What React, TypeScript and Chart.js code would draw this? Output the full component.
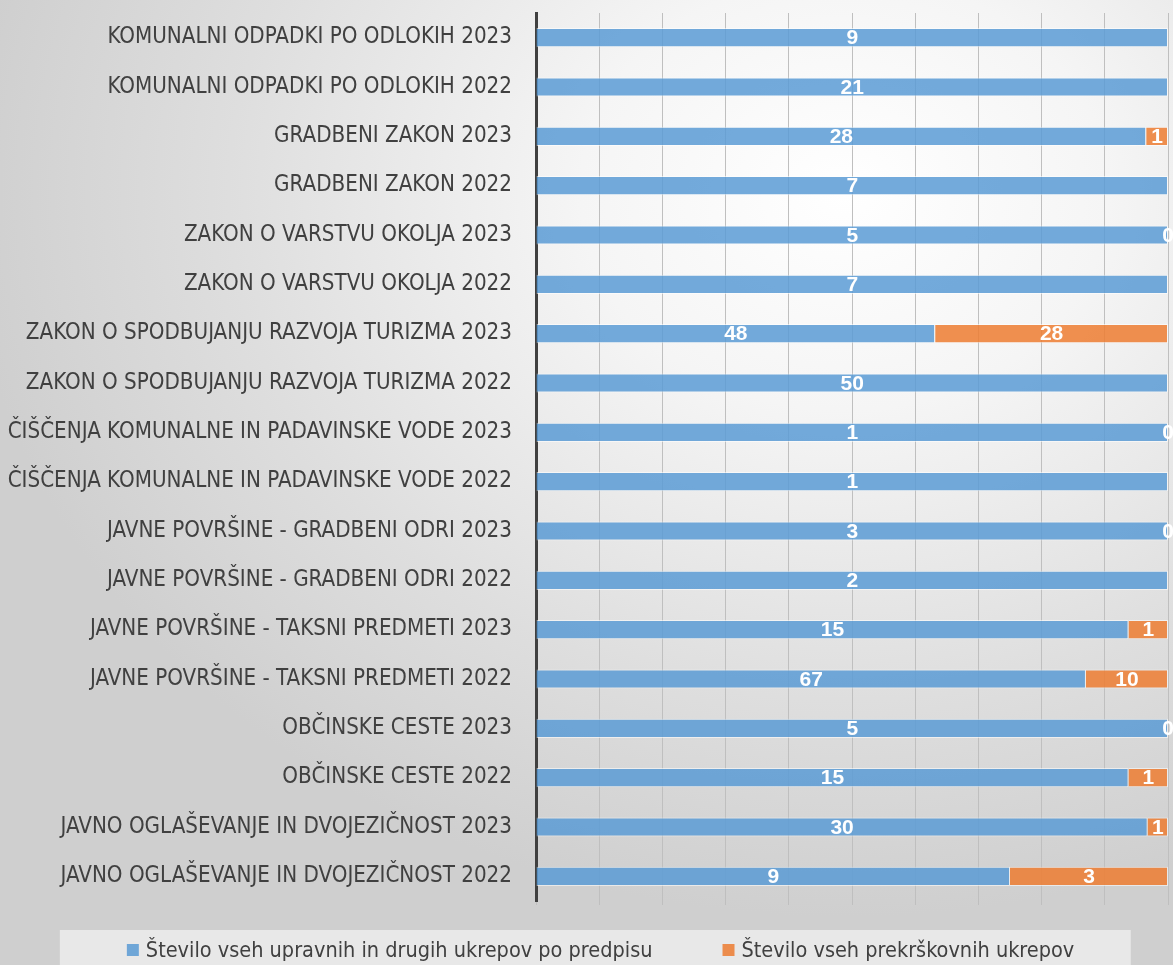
import React, { useEffect, useRef } from "react";
import { Chart, registerables } from "chart.js";

Chart.register(...registerables);

const categories: string[] = [
  "KOMUNALNI ODPADKI PO ODLOKIH 2023",
  "KOMUNALNI ODPADKI PO ODLOKIH 2022",
  "GRADBENI ZAKON 2023",
  "GRADBENI ZAKON 2022",
  "ZAKON O VARSTVU OKOLJA 2023",
  "ZAKON O VARSTVU OKOLJA 2022",
  "ZAKON O SPODBUJANJU RAZVOJA TURIZMA 2023",
  "ZAKON O SPODBUJANJU RAZVOJA TURIZMA 2022",
  "ČIŠČENJA KOMUNALNE IN PADAVINSKE VODE 2023",
  "ČIŠČENJA KOMUNALNE IN PADAVINSKE VODE 2022",
  "JAVNE POVRŠINE - GRADBENI ODRI 2023",
  "JAVNE POVRŠINE - GRADBENI ODRI 2022",
  "JAVNE POVRŠINE - TAKSNI PREDMETI 2023",
  "JAVNE POVRŠINE - TAKSNI PREDMETI 2022",
  "OBČINSKE CESTE 2023",
  "OBČINSKE CESTE 2022",
  "JAVNO OGLAŠEVANJE IN DVOJEZIČNOST 2023",
  "JAVNO OGLAŠEVANJE IN DVOJEZIČNOST 2022",
];

const upravniUkrepi: (number | null)[] = [9, 21, 28, 7, 5, 7, 48, 50, 1, 1, 3, 2, 15, 67, 5, 15, 30, 9];
const prekrskovniUkrepi: (number | null)[] = [null, null, 1, null, 0, null, 28, null, 0, null, 0, null, 1, 10, 0, 1, 1, 3];

const seriesNames: string[] = [
  "Število vseh upravnih in drugih ukrepov po predpisu",
  "Število vseh prekrškovnih ukrepov",
];

const seriesColors: string[] = ["rgba(91,155,213,0.85)", "rgba(237,125,49,0.85)"];

const FONT = "'Liberation Sans Narrow', 'DejaVu Sans Condensed', sans-serif";
const LABEL_FONT = "'Liberation Sans', 'DejaVu Sans', sans-serif";

function toPercent(a: (number | null)[], b: (number | null)[], own: (number | null)[]) {
  return own.map((v, i) => {
    if (v === null) return null;
    const total = (a[i] ?? 0) + (b[i] ?? 0);
    return total === 0 ? 0 : (v / total) * 100;
  });
}

export default function App() {
  const ref = useRef<HTMLCanvasElement | null>(null);

  useEffect(() => {
    if (!ref.current) return;
    const rawSeries = [upravniUkrepi, prekrskovniUkrepi];

    const labelPlugin = {
      id: "valueLabels",
      afterDatasetsDraw(chart: any) {
        const ctx = chart.ctx;
        ctx.save();
        ctx.fillStyle = "#ffffff";
        ctx.font = `bold 21px ${LABEL_FONT}`;
        ctx.textAlign = "center";
        ctx.textBaseline = "middle";
        rawSeries.forEach((arr, di) => {
          const meta = chart.getDatasetMeta(di);
          meta.data.forEach((el: any, j: number) => {
            const v = arr[j];
            if (v === null || v === undefined) return;
            const cx = (el.x + el.base) / 2;
            ctx.fillText(String(v), cx, el.y + 1);
          });
        });
        ctx.restore();
      },
    };

    const legendPlugin = {
      id: "customLegend",
      beforeDraw(chart: any) {
        const ctx = chart.ctx;
        const area = chart.chartArea;
        ctx.save();
        ctx.fillStyle = "rgba(238,238,238,0.8)";
        const x0 = chart.width * 0.051;
        const x1 = chart.width * 0.964;
        ctx.fillRect(x0, area.bottom + 29, x1 - x0, chart.height - area.bottom - 29);
        ctx.restore();
      },
      afterDraw(chart: any) {
        const ctx = chart.ctx;
        const area = chart.chartArea;
        ctx.save();
        ctx.font = `21.5px ${FONT}`;
        ctx.textBaseline = "middle";
        ctx.textAlign = "left";
        const box = 12;
        const gapBox = 7;
        const gapItems = 70;
        const widths = seriesNames.map((s) => ctx.measureText(s).width);
        const total = widths.reduce((s, w) => s + box + gapBox + w, 0) + gapItems * (seriesNames.length - 1);
        let x = chart.width * 0.512 - total / 2;
        const y = area.bottom + 49;
        seriesNames.forEach((name, i) => {
          ctx.fillStyle = seriesColors[i];
          ctx.fillRect(x, y - box / 2, box, box);
          ctx.fillStyle = "#404040";
          ctx.fillText(name, x + box + gapBox, y + 1);
          x += box + gapBox + widths[i] + gapItems;
        });
        ctx.restore();
      },
    };

    const chart = new Chart(ref.current, {
      type: "bar",
      data: {
        labels: categories,
        datasets: [
          {
            label: seriesNames[0],
            data: toPercent(upravniUkrepi, prekrskovniUkrepi, upravniUkrepi),
            backgroundColor: seriesColors[0],
            borderColor: "rgba(255,255,255,0.55)",
            borderWidth: 1,
            barPercentage: 0.78,
            categoryPercentage: 0.5,
          },
          {
            label: seriesNames[1],
            data: toPercent(upravniUkrepi, prekrskovniUkrepi, prekrskovniUkrepi),
            backgroundColor: seriesColors[1],
            borderColor: "rgba(255,255,255,0.55)",
            borderWidth: 1,
            barPercentage: 0.78,
            categoryPercentage: 0.5,
          },
        ],
      },
      options: {
        indexAxis: "y",
        animation: false,
        responsive: false,
        maintainAspectRatio: false,
        layout: { padding: { top: 13, right: 5, left: 0, bottom: 60 } },
        scales: {
          x: {
            stacked: true,
            min: 0,
            max: 100,
            ticks: { display: false, stepSize: 10 },
            grid: { color: "#bfbfbf", lineWidth: 1, drawTicks: true, tickLength: 4 },
            border: { display: false },
            afterFit(scale: any) {
              scale.height = 4;
              scale.paddingLeft = 0;
              scale.paddingRight = 0;
            },
          },
          y: {
            stacked: true,
            grid: { display: false, drawTicks: false },
            border: { display: true, color: "#404040", width: 3 },
            ticks: {
              color: "#404040",
              padding: 24,
              autoSkip: false,
              font: { family: FONT, size: 22.2 },
            },
            afterFit(scale: any) {
              scale.width = 536;
              scale.paddingTop = 0;
              scale.paddingBottom = 0;
            },
          },
        },
        plugins: {
          legend: { display: false },
          tooltip: { enabled: false },
        },
      },
      plugins: [labelPlugin, legendPlugin],
    } as any);

    return () => chart.destroy();
  }, []);

  return (
    <div
      style={{
        position: "fixed",
        left: 0,
        top: 0,
        width: 1173,
        height: 965,
        background:
          "radial-gradient(ellipse 75% 75% at 72% 20%, #ffffff 0%, #f5f5f5 30%, #dedede 70%, #cfcfcf 100%)",
      }}
    >
      <canvas ref={ref} width={1173} height={965} style={{ display: "block" }} />
    </div>
  );
}
